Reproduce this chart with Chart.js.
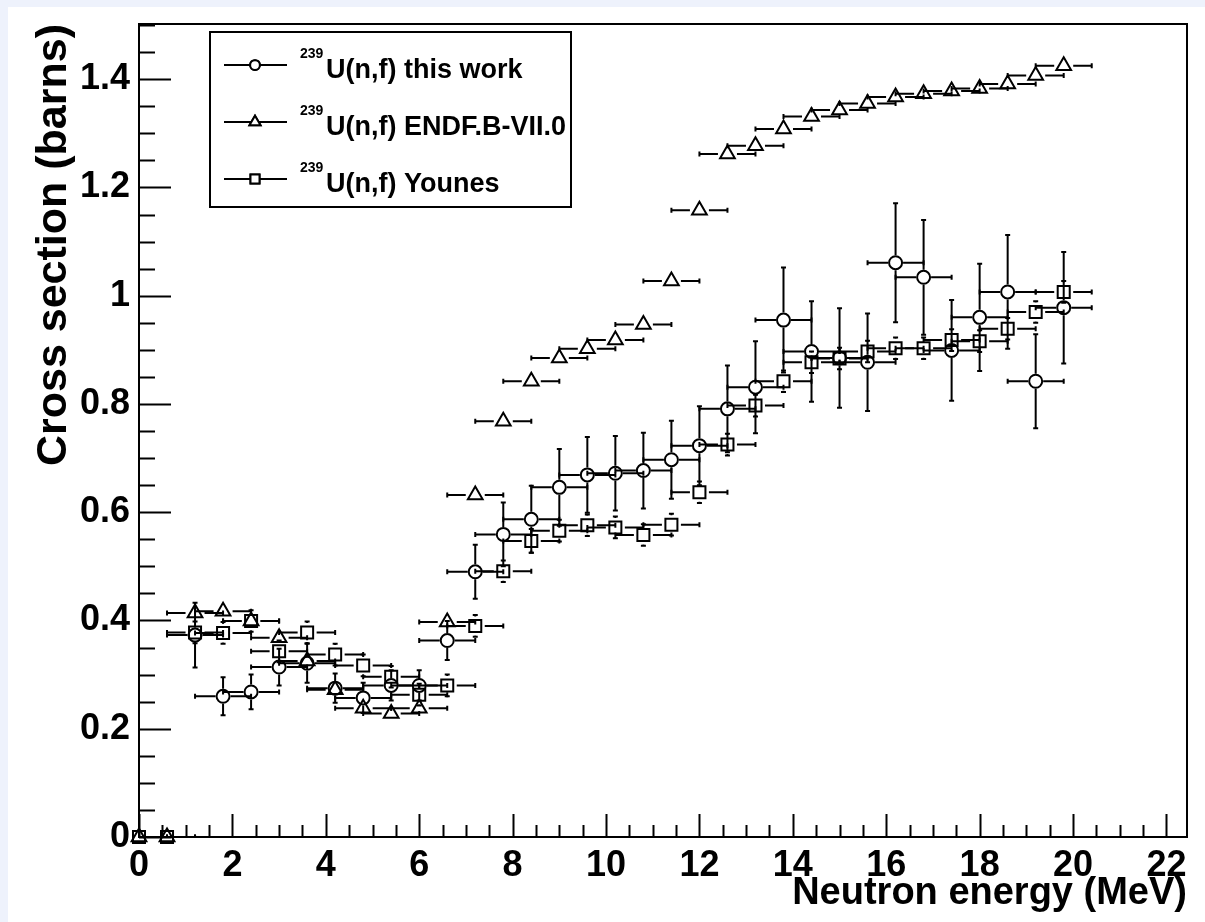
<!DOCTYPE html>
<html>
<head>
<meta charset="utf-8">
<script src="https://cdn.jsdelivr.net/npm/chart.js@4.4.0/dist/chart.umd.min.js"></script>
<style>
  html, body { margin: 0; padding: 0; background: #eef2fc; }
  body { width: 1205px; height: 922px; overflow: hidden; position: relative; }
  #graphique { position: absolute; left: 8px; top: 7px; background: #fff; }
</style>
</head>
<body>
<canvas id="graphique" width="1197" height="915"></canvas>
<script>
/*
* donnees : energie des neutrons (MeV) et sections efficaces (barns)
*/
const energies = [0, 0.6, 1.2, 1.8, 2.4, 3.0, 3.6, 4.2, 4.8, 5.4, 6.0, 6.6, 7.2, 7.8, 8.4, 9.0, 9.6,
  10.2, 10.8, 11.4, 12.0, 12.6, 13.2, 13.8, 14.4, 15.0, 15.6, 16.2, 16.8, 17.4, 18.0, 18.6, 19.2, 19.8];
const demiLargeur = 0.6; // barre d'erreur horizontale (MeV)

const ceTravail = [null, null, 0.373, 0.260, 0.268, 0.314, 0.321, 0.275, 0.257, 0.280, 0.280, 0.363,
  0.490, 0.559, 0.587, 0.646, 0.669, 0.672, 0.677, 0.697, 0.723, 0.791, 0.831, 0.955, 0.897, 0.885,
  0.877, 1.061, 1.034, 0.899, 0.960, 1.007, 0.842, 0.978];
const ceTravailErr = [null, null, 0.060, 0.035, 0.032, 0.034, 0.036, 0.027, 0.028, 0.028, 0.028, 0.036,
  0.050, 0.059, 0.062, 0.071, 0.070, 0.069, 0.070, 0.072, 0.073, 0.080, 0.085, 0.097, 0.093, 0.092,
  0.090, 0.110, 0.106, 0.093, 0.099, 0.105, 0.087, 0.103];

const endf = [0, 0, 0.414, 0.417, 0.399, 0.368, 0.325, 0.272, 0.238, 0.228, 0.238, 0.397,
  0.632, 0.768, 0.842, 0.885, 0.902, 0.918, 0.947, 1.027, 1.158, 1.262, 1.277, 1.308, 1.331, 1.343,
  1.355, 1.367, 1.373, 1.378, 1.383, 1.391, 1.407, 1.425];
const endfErr = [0, 0, 0, 0, 0, 0, 0, 0, 0, 0, 0, 0, 0, 0, 0, 0, 0, 0, 0, 0, 0, 0, 0, 0, 0, 0,
  0, 0, 0, 0, 0, 0, 0, 0];

const younes = [0, 0, 0.378, 0.377, 0.399, 0.343, 0.378, 0.337, 0.317, 0.296, 0.263, 0.280,
  0.390, 0.491, 0.547, 0.566, 0.576, 0.572, 0.558, 0.577, 0.637, 0.725, 0.797, 0.842, 0.877, 0.884,
  0.897, 0.903, 0.903, 0.918, 0.916, 0.939, 0.970, 1.007];
const younesErr = [0, 0, 0.02, 0.02, 0.02, 0.02, 0.02, 0.02, 0.02, 0.02, 0.02, 0.02,
  0.02, 0.02, 0.022, 0.02, 0.02, 0.02, 0.02, 0.02, 0.02, 0.02, 0.02, 0.02, 0.02, 0.02,
  0.02, 0.02, 0.02, 0.02, 0.02, 0.02, 0.02, 0.02];

const xTicksPas = 2;
const yTicksPas = 0.2;

const police = "'Liberation Sans', Arial, Helvetica, sans-serif";

function points(valeurs) {
  return energies.map((e, i) => ({ x: e, y: valeurs[i] }));
}

function serie(label, valeurs, erreurs, style, rayon) {
  return {
    label: label,
    isotope: '239',
    data: points(valeurs),
    errY: erreurs,
    errX: demiLargeur,
    ecart: rayon,
    pointStyle: style,
    pointRadius: rayon,
    pointBorderWidth: 2,
    borderColor: '#000',
    backgroundColor: 'rgba(0,0,0,0)',
    showLine: false,
    clip: false
  };
}

// garde seulement les multiples du pas
function multiples(pas) {
  return (s) => {
    s.ticks = s.ticks.filter(t => Math.abs(t.value / pas - Math.round(t.value / pas)) < 1e-6);
  };
}

/*
* barres d'erreur (elles s'arretent au bord du marqueur)
*/
const barresErreur = {
  id: 'barresErreur',
  beforeDatasetsDraw(chart) {
    const { ctx, chartArea: a, scales: { x, y } } = chart;
    ctx.save();
    ctx.beginPath();
    ctx.rect(a.left, a.top, a.width, a.height);
    ctx.clip();
    ctx.strokeStyle = '#000';
    ctx.lineWidth = 2;
    const c = 2.5; // demi-longueur des petits traits en bout de barre
    chart.data.datasets.forEach((ds) => {
      const g = ds.ecart + 1;
      ds.data.forEach((p, i) => {
        if (p.y === null) return;
        const px = x.getPixelForValue(p.x);
        const py = y.getPixelForValue(p.y);
        const x1 = x.getPixelForValue(p.x - ds.errX);
        const x2 = x.getPixelForValue(p.x + ds.errX);
        const ey = ds.errY[i] || 0;
        const y1 = y.getPixelForValue(p.y + ey);
        const y2 = y.getPixelForValue(p.y - ey);
        ctx.beginPath();
        if (px - x1 > g) {
          ctx.moveTo(px - g, py); ctx.lineTo(x1, py);
          ctx.moveTo(x1, py - c); ctx.lineTo(x1, py + c);
        }
        if (x2 - px > g) {
          ctx.moveTo(px + g, py); ctx.lineTo(x2, py);
          ctx.moveTo(x2, py - c); ctx.lineTo(x2, py + c);
        }
        if (py - y1 > g) {
          ctx.moveTo(px, py - g); ctx.lineTo(px, y1);
          ctx.moveTo(px - c, y1); ctx.lineTo(px + c, y1);
        }
        if (y2 - py > g) {
          ctx.moveTo(px, py + g); ctx.lineTo(px, y2);
          ctx.moveTo(px - c, y2); ctx.lineTo(px + c, y2);
        }
        ctx.stroke();
      });
    });
    ctx.restore();
  }
};

/*
* cadre + graduations vers l'interieur (majeures et mineures)
*/
const cadre = {
  id: 'cadre',
  afterDatasetsDraw(chart) {
    const { ctx, chartArea: a, scales: { x, y } } = chart;
    ctx.save();
    ctx.strokeStyle = '#000';
    ctx.lineWidth = 2;
    ctx.strokeRect(a.left, a.top, a.width, a.height);
    ctx.beginPath();
    const pasX = xTicksPas / 4;
    for (let k = 0; k * pasX <= x.max + 1e-9; k++) {
      const px = Math.round(x.getPixelForValue(k * pasX)) + 0.5;
      ctx.moveTo(px, a.bottom);
      ctx.lineTo(px, a.bottom - (k % 4 === 0 ? 23 : 12));
    }
    const pasY = yTicksPas / 4;
    for (let k = 0; k * pasY <= y.max + 1e-9; k++) {
      const py = Math.round(y.getPixelForValue(k * pasY)) + 0.5;
      ctx.moveTo(a.left, py);
      ctx.lineTo(a.left + (k % 4 === 0 ? 32 : 16), py);
    }
    ctx.stroke();
    ctx.restore();
  }
};

/*
* legende dessinee a la main (exposant pour l'isotope)
*/
const legende = {
  id: 'legende',
  afterDraw(chart) {
    const ctx = chart.ctx;
    const boite = { x: 202, y: 25, w: 361, h: 175 };
    ctx.save();
    ctx.fillStyle = '#fff';
    ctx.fillRect(boite.x, boite.y, boite.w, boite.h);
    ctx.strokeStyle = '#000';
    ctx.lineWidth = 2;
    ctx.strokeRect(boite.x, boite.y, boite.w, boite.h);

    chart.data.datasets.forEach((ds, i) => {
      const ly = boite.y + 33 + i * 57;
      ctx.beginPath();
      ctx.moveTo(boite.x + 14, ly);
      ctx.lineTo(boite.x + 77, ly);
      ctx.lineWidth = 2;
      ctx.stroke();
      Chart.helpers.drawPoint(ctx, {
        pointStyle: ds.pointStyle,
        radius: ds.pointRadius * 0.75,
        borderWidth: 2,
        rotation: 0
      }, boite.x + 45, ly);
      ctx.fillStyle = '#fff';
      ctx.fill();
      ctx.stroke();

      ctx.fillStyle = '#000';
      ctx.textBaseline = 'alphabetic';
      ctx.textAlign = 'left';
      ctx.font = `bold 14px ${police}`;
      ctx.fillText(ds.isotope, boite.x + 90, ly - 7);
      ctx.font = `bold 27px ${police}`;
      ctx.fillText(ds.label, boite.x + 116, ly + 13);
    });
    ctx.restore();
  }
};

const ctx = document.getElementById('graphique').getContext('2d');
const chart = new Chart(ctx, {
  type: 'scatter',
  data: {
    datasets: [
      serie('U(n,f) this work', ceTravail, ceTravailErr, 'circle', 6.5),
      serie('U(n,f) ENDF.B-VII.0', endf, endfErr, 'triangle', 8.5),
      serie('U(n,f) Younes', younes, younesErr, 'rect', 8.5)
    ]
  },
  options: {
    responsive: false,
    animation: false,
    devicePixelRatio: 1,
    layout: { padding: { top: 17, right: 18, left: 0, bottom: 0 } },
    plugins: {
      legend: { display: false },
      tooltip: { enabled: false }
    },
    scales: {
      x: {
        type: 'linear',
        min: 0,
        max: 22.44,
        afterBuildTicks: multiples(xTicksPas),
        afterFit: (s) => { s.height = 85; s.paddingLeft = 0; s.paddingRight = 0; },
        grid: { display: false, drawTicks: false },
        border: { display: false },
        ticks: {
          stepSize: xTicksPas,
          includeBounds: false,
          autoSkip: false,
          maxRotation: 0,
          padding: 7,
          color: '#000',
          font: { family: police, size: 36, weight: 'bold' },
          callback: (v) => String(Math.round(v))
        },
        title: {
          display: true,
          text: 'Neutron energy (MeV)',
          align: 'end',
          color: '#000',
          font: { family: police, size: 38, weight: 'bold' },
          padding: { top: 0, bottom: 6 }
        }
      },
      y: {
        type: 'linear',
        min: 0,
        max: 1.502,
        afterBuildTicks: multiples(yTicksPas),
        afterFit: (s) => { s.width = 131; s.paddingTop = 0; s.paddingBottom = 0; },
        grid: { display: false, drawTicks: false },
        border: { display: false },
        ticks: {
          stepSize: yTicksPas,
          includeBounds: false,
          padding: 9,
          color: '#000',
          font: { family: police, size: 36, weight: 'bold' },
          callback: (v) => String(Math.round(v * 10) / 10)
        },
        title: {
          display: true,
          text: 'Cross section (barns)',
          align: 'end',
          color: '#000',
          font: { family: police, size: 43, weight: 'bold' },
          padding: { top: 20, bottom: 0 }
        }
      }
    }
  },
  plugins: [barresErreur, cadre, legende]
});
</script>
</body>
</html>
